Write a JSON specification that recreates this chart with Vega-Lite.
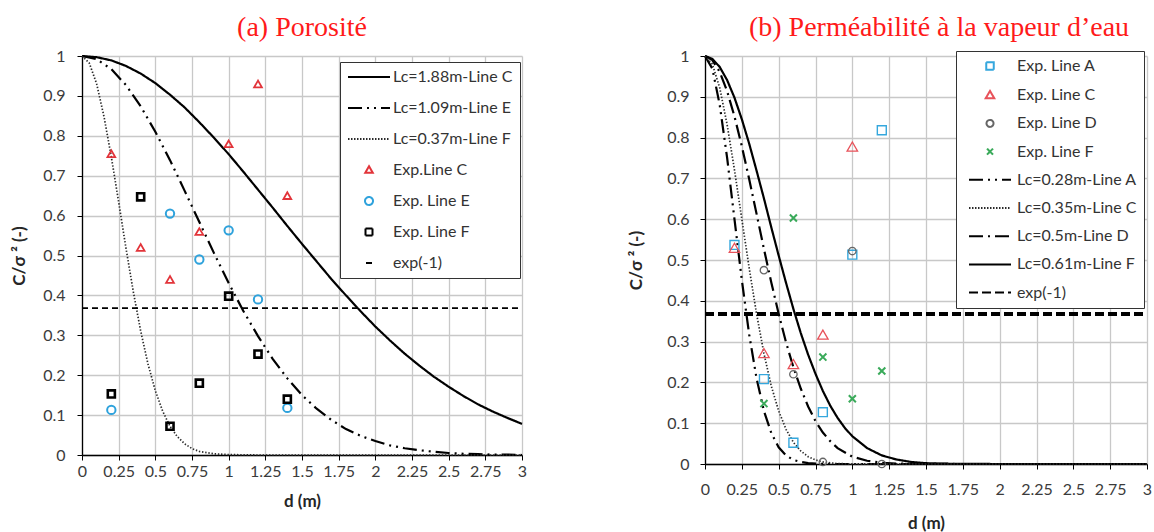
{
 "$schema": "https://vega.github.io/schema/vega-lite/v6.json",
 "padding": {"left": 10, "top": 14, "right": 2, "bottom": 2},
 "background": "white",
 "spacing": 100,
 "datasets": {
  "leftCurves": [
   {"series":"Lc=1.88m-Line C","d":0,"v":1},{"series":"Lc=1.88m-Line C","d":0.1,"v":0.997},{"series":"Lc=1.88m-Line C","d":0.2,"v":0.989},{"series":"Lc=1.88m-Line C","d":0.3,"v":0.975},{"series":"Lc=1.88m-Line C","d":0.4,"v":0.956},{"series":"Lc=1.88m-Line C","d":0.5,"v":0.932},{"series":"Lc=1.88m-Line C","d":0.6,"v":0.903},{"series":"Lc=1.88m-Line C","d":0.7,"v":0.871},{"series":"Lc=1.88m-Line C","d":0.8,"v":0.834},{"series":"Lc=1.88m-Line C","d":0.9,"v":0.795},{"series":"Lc=1.88m-Line C","d":1.0,"v":0.754},{"series":"Lc=1.88m-Line C","d":1.1,"v":0.710},{"series":"Lc=1.88m-Line C","d":1.2,"v":0.665},{"series":"Lc=1.88m-Line C","d":1.3,"v":0.620},{"series":"Lc=1.88m-Line C","d":1.4,"v":0.574},{"series":"Lc=1.88m-Line C","d":1.5,"v":0.529},{"series":"Lc=1.88m-Line C","d":1.6,"v":0.485},{"series":"Lc=1.88m-Line C","d":1.7,"v":0.441},{"series":"Lc=1.88m-Line C","d":1.8,"v":0.400},{"series":"Lc=1.88m-Line C","d":1.9,"v":0.360},{"series":"Lc=1.88m-Line C","d":2.0,"v":0.322},{"series":"Lc=1.88m-Line C","d":2.1,"v":0.287},{"series":"Lc=1.88m-Line C","d":2.2,"v":0.254},{"series":"Lc=1.88m-Line C","d":2.3,"v":0.224},{"series":"Lc=1.88m-Line C","d":2.4,"v":0.196},{"series":"Lc=1.88m-Line C","d":2.5,"v":0.171},{"series":"Lc=1.88m-Line C","d":2.6,"v":0.148},{"series":"Lc=1.88m-Line C","d":2.7,"v":0.127},{"series":"Lc=1.88m-Line C","d":2.8,"v":0.109},{"series":"Lc=1.88m-Line C","d":2.9,"v":0.093},{"series":"Lc=1.88m-Line C","d":3.0,"v":0.078},
   {"series":"Lc=1.09m-Line E","d":0,"v":1},{"series":"Lc=1.09m-Line E","d":0.1,"v":0.992},{"series":"Lc=1.09m-Line E","d":0.2,"v":0.967},{"series":"Lc=1.09m-Line E","d":0.3,"v":0.927},{"series":"Lc=1.09m-Line E","d":0.4,"v":0.874},{"series":"Lc=1.09m-Line E","d":0.5,"v":0.810},{"series":"Lc=1.09m-Line E","d":0.6,"v":0.739},{"series":"Lc=1.09m-Line E","d":0.7,"v":0.662},{"series":"Lc=1.09m-Line E","d":0.8,"v":0.584},{"series":"Lc=1.09m-Line E","d":0.9,"v":0.506},{"series":"Lc=1.09m-Line E","d":1.0,"v":0.431},{"series":"Lc=1.09m-Line E","d":1.1,"v":0.361},{"series":"Lc=1.09m-Line E","d":1.2,"v":0.298},{"series":"Lc=1.09m-Line E","d":1.3,"v":0.241},{"series":"Lc=1.09m-Line E","d":1.4,"v":0.192},{"series":"Lc=1.09m-Line E","d":1.5,"v":0.150},{"series":"Lc=1.09m-Line E","d":1.6,"v":0.116},{"series":"Lc=1.09m-Line E","d":1.7,"v":0.088},{"series":"Lc=1.09m-Line E","d":1.8,"v":0.065},{"series":"Lc=1.09m-Line E","d":1.9,"v":0.048},{"series":"Lc=1.09m-Line E","d":2.0,"v":0.035},{"series":"Lc=1.09m-Line E","d":2.1,"v":0.024},{"series":"Lc=1.09m-Line E","d":2.2,"v":0.017},{"series":"Lc=1.09m-Line E","d":2.3,"v":0.012},{"series":"Lc=1.09m-Line E","d":2.4,"v":0.008},{"series":"Lc=1.09m-Line E","d":2.5,"v":0.005},{"series":"Lc=1.09m-Line E","d":2.6,"v":0.003},{"series":"Lc=1.09m-Line E","d":2.7,"v":0.002},{"series":"Lc=1.09m-Line E","d":2.8,"v":0.001},{"series":"Lc=1.09m-Line E","d":2.9,"v":0.001},{"series":"Lc=1.09m-Line E","d":3.0,"v":0},
   {"series":"Lc=0.37m-Line F","d":0,"v":1},{"series":"Lc=0.37m-Line F","d":0.05,"v":0.982},{"series":"Lc=0.37m-Line F","d":0.1,"v":0.930},{"series":"Lc=0.37m-Line F","d":0.15,"v":0.848},{"series":"Lc=0.37m-Line F","d":0.2,"v":0.747},{"series":"Lc=0.37m-Line F","d":0.25,"v":0.634},{"series":"Lc=0.37m-Line F","d":0.3,"v":0.518},{"series":"Lc=0.37m-Line F","d":0.35,"v":0.409},{"series":"Lc=0.37m-Line F","d":0.4,"v":0.311},{"series":"Lc=0.37m-Line F","d":0.45,"v":0.228},{"series":"Lc=0.37m-Line F","d":0.5,"v":0.161},{"series":"Lc=0.37m-Line F","d":0.55,"v":0.110},{"series":"Lc=0.37m-Line F","d":0.6,"v":0.072},{"series":"Lc=0.37m-Line F","d":0.65,"v":0.046},{"series":"Lc=0.37m-Line F","d":0.7,"v":0.028},{"series":"Lc=0.37m-Line F","d":0.75,"v":0.016},{"series":"Lc=0.37m-Line F","d":0.8,"v":0.009},{"series":"Lc=0.37m-Line F","d":0.9,"v":0.003},{"series":"Lc=0.37m-Line F","d":1.0,"v":0.001},{"series":"Lc=0.37m-Line F","d":1.2,"v":0},{"series":"Lc=0.37m-Line F","d":1.5,"v":0},{"series":"Lc=0.37m-Line F","d":2,"v":0},{"series":"Lc=0.37m-Line F","d":2.5,"v":0},{"series":"Lc=0.37m-Line F","d":3,"v":0},
   {"series":"exp(-1)","d":0,"v":0.3679},{"series":"exp(-1)","d":3,"v":0.3679}
  ],
  "leftPoints": [
   {"series":"Exp.Line C","d":0.2,"v":0.755},{"series":"Exp.Line C","d":0.4,"v":0.52},{"series":"Exp.Line C","d":0.6,"v":0.44},{"series":"Exp.Line C","d":0.8,"v":0.56},{"series":"Exp.Line C","d":1.0,"v":0.78},{"series":"Exp.Line C","d":1.2,"v":0.93},{"series":"Exp.Line C","d":1.4,"v":0.65},
   {"series":"Exp. Line E","d":0.2,"v":0.113},{"series":"Exp. Line E","d":0.6,"v":0.605},{"series":"Exp. Line E","d":0.8,"v":0.49},{"series":"Exp. Line E","d":1.0,"v":0.563},{"series":"Exp. Line E","d":1.2,"v":0.39},{"series":"Exp. Line E","d":1.4,"v":0.118},
   {"series":"Exp. Line F","d":0.2,"v":0.153},{"series":"Exp. Line F","d":0.4,"v":0.647},{"series":"Exp. Line F","d":0.6,"v":0.072},{"series":"Exp. Line F","d":0.8,"v":0.18},{"series":"Exp. Line F","d":1.0,"v":0.398},{"series":"Exp. Line F","d":1.2,"v":0.253},{"series":"Exp. Line F","d":1.4,"v":0.14}
  ],
  "rightCurves": [
   {"series":"Lc=0.28m-Line A","d":0,"v":1},{"series":"Lc=0.28m-Line A","d":0.05,"v":0.969},{"series":"Lc=0.28m-Line A","d":0.1,"v":0.880},{"series":"Lc=0.28m-Line A","d":0.15,"v":0.751},{"series":"Lc=0.28m-Line A","d":0.2,"v":0.600},{"series":"Lc=0.28m-Line A","d":0.25,"v":0.451},{"series":"Lc=0.28m-Line A","d":0.3,"v":0.317},{"series":"Lc=0.28m-Line A","d":0.35,"v":0.210},{"series":"Lc=0.28m-Line A","d":0.4,"v":0.130},{"series":"Lc=0.28m-Line A","d":0.45,"v":0.076},{"series":"Lc=0.28m-Line A","d":0.5,"v":0.041},{"series":"Lc=0.28m-Line A","d":0.55,"v":0.021},{"series":"Lc=0.28m-Line A","d":0.6,"v":0.010},{"series":"Lc=0.28m-Line A","d":0.65,"v":0.005},{"series":"Lc=0.28m-Line A","d":0.7,"v":0.002},{"series":"Lc=0.28m-Line A","d":0.8,"v":0.0003},{"series":"Lc=0.28m-Line A","d":0.9,"v":0},{"series":"Lc=0.28m-Line A","d":1.0,"v":0},{"series":"Lc=0.28m-Line A","d":1.5,"v":0},{"series":"Lc=0.28m-Line A","d":2,"v":0},{"series":"Lc=0.28m-Line A","d":3,"v":0},
   {"series":"Lc=0.35m-Line C","d":0,"v":1},{"series":"Lc=0.35m-Line C","d":0.05,"v":0.980},{"series":"Lc=0.35m-Line C","d":0.1,"v":0.922},{"series":"Lc=0.35m-Line C","d":0.15,"v":0.832},{"series":"Lc=0.35m-Line C","d":0.2,"v":0.721},{"series":"Lc=0.35m-Line C","d":0.25,"v":0.600},{"series":"Lc=0.35m-Line C","d":0.3,"v":0.480},{"series":"Lc=0.35m-Line C","d":0.35,"v":0.368},{"series":"Lc=0.35m-Line C","d":0.4,"v":0.271},{"series":"Lc=0.35m-Line C","d":0.45,"v":0.191},{"series":"Lc=0.35m-Line C","d":0.5,"v":0.130},{"series":"Lc=0.35m-Line C","d":0.55,"v":0.085},{"series":"Lc=0.35m-Line C","d":0.6,"v":0.053},{"series":"Lc=0.35m-Line C","d":0.65,"v":0.032},{"series":"Lc=0.35m-Line C","d":0.7,"v":0.018},{"series":"Lc=0.35m-Line C","d":0.75,"v":0.010},{"series":"Lc=0.35m-Line C","d":0.8,"v":0.005},{"series":"Lc=0.35m-Line C","d":0.9,"v":0.001},{"series":"Lc=0.35m-Line C","d":1.0,"v":0.0003},{"series":"Lc=0.35m-Line C","d":1.5,"v":0},{"series":"Lc=0.35m-Line C","d":2,"v":0},{"series":"Lc=0.35m-Line C","d":3,"v":0},
   {"series":"Lc=0.5m-Line D","d":0,"v":1},{"series":"Lc=0.5m-Line D","d":0.05,"v":0.990},{"series":"Lc=0.5m-Line D","d":0.1,"v":0.961},{"series":"Lc=0.5m-Line D","d":0.15,"v":0.914},{"series":"Lc=0.5m-Line D","d":0.2,"v":0.852},{"series":"Lc=0.5m-Line D","d":0.25,"v":0.779},{"series":"Lc=0.5m-Line D","d":0.3,"v":0.698},{"series":"Lc=0.5m-Line D","d":0.35,"v":0.613},{"series":"Lc=0.5m-Line D","d":0.4,"v":0.527},{"series":"Lc=0.5m-Line D","d":0.45,"v":0.445},{"series":"Lc=0.5m-Line D","d":0.5,"v":0.368},{"series":"Lc=0.5m-Line D","d":0.55,"v":0.298},{"series":"Lc=0.5m-Line D","d":0.6,"v":0.237},{"series":"Lc=0.5m-Line D","d":0.65,"v":0.185},{"series":"Lc=0.5m-Line D","d":0.7,"v":0.141},{"series":"Lc=0.5m-Line D","d":0.75,"v":0.105},{"series":"Lc=0.5m-Line D","d":0.8,"v":0.077},{"series":"Lc=0.5m-Line D","d":0.85,"v":0.056},{"series":"Lc=0.5m-Line D","d":0.9,"v":0.039},{"series":"Lc=0.5m-Line D","d":1.0,"v":0.018},{"series":"Lc=0.5m-Line D","d":1.1,"v":0.008},{"series":"Lc=0.5m-Line D","d":1.2,"v":0.003},{"series":"Lc=0.5m-Line D","d":1.3,"v":0.001},{"series":"Lc=0.5m-Line D","d":1.4,"v":0.0004},{"series":"Lc=0.5m-Line D","d":1.5,"v":0.0001},{"series":"Lc=0.5m-Line D","d":2,"v":0},{"series":"Lc=0.5m-Line D","d":3,"v":0},
   {"series":"Lc=0.61m-Line F","d":0,"v":1},{"series":"Lc=0.61m-Line F","d":0.05,"v":0.993},{"series":"Lc=0.61m-Line F","d":0.1,"v":0.973},{"series":"Lc=0.61m-Line F","d":0.15,"v":0.941},{"series":"Lc=0.61m-Line F","d":0.2,"v":0.898},{"series":"Lc=0.61m-Line F","d":0.25,"v":0.845},{"series":"Lc=0.61m-Line F","d":0.3,"v":0.785},{"series":"Lc=0.61m-Line F","d":0.35,"v":0.719},{"series":"Lc=0.61m-Line F","d":0.4,"v":0.651},{"series":"Lc=0.61m-Line F","d":0.45,"v":0.580},{"series":"Lc=0.61m-Line F","d":0.5,"v":0.511},{"series":"Lc=0.61m-Line F","d":0.55,"v":0.444},{"series":"Lc=0.61m-Line F","d":0.6,"v":0.380},{"series":"Lc=0.61m-Line F","d":0.65,"v":0.321},{"series":"Lc=0.61m-Line F","d":0.7,"v":0.268},{"series":"Lc=0.61m-Line F","d":0.75,"v":0.221},{"series":"Lc=0.61m-Line F","d":0.8,"v":0.179},{"series":"Lc=0.61m-Line F","d":0.85,"v":0.143},{"series":"Lc=0.61m-Line F","d":0.9,"v":0.113},{"series":"Lc=0.61m-Line F","d":0.95,"v":0.088},{"series":"Lc=0.61m-Line F","d":1.0,"v":0.068},{"series":"Lc=0.61m-Line F","d":1.1,"v":0.039},{"series":"Lc=0.61m-Line F","d":1.2,"v":0.021},{"series":"Lc=0.61m-Line F","d":1.3,"v":0.011},{"series":"Lc=0.61m-Line F","d":1.4,"v":0.005},{"series":"Lc=0.61m-Line F","d":1.5,"v":0.002},{"series":"Lc=0.61m-Line F","d":1.6,"v":0.001},{"series":"Lc=0.61m-Line F","d":1.7,"v":0.0004},{"series":"Lc=0.61m-Line F","d":1.8,"v":0.0002},{"series":"Lc=0.61m-Line F","d":2,"v":0},{"series":"Lc=0.61m-Line F","d":2.5,"v":0},{"series":"Lc=0.61m-Line F","d":3,"v":0},
   {"series":"exp(-1)","d":0,"v":0.3679},{"series":"exp(-1)","d":3,"v":0.3679}
  ],
  "rightPoints": [
   {"series":"Exp. Line A","d":0.2,"v":0.537},{"series":"Exp. Line A","d":0.4,"v":0.208},{"series":"Exp. Line A","d":0.6,"v":0.052},{"series":"Exp. Line A","d":0.8,"v":0.127},{"series":"Exp. Line A","d":1.0,"v":0.513},{"series":"Exp. Line A","d":1.2,"v":0.818},
   {"series":"Exp. Line C","d":0.2,"v":0.53},{"series":"Exp. Line C","d":0.4,"v":0.272},{"series":"Exp. Line C","d":0.6,"v":0.245},{"series":"Exp. Line C","d":0.8,"v":0.317},{"series":"Exp. Line C","d":1.0,"v":0.778},
   {"series":"Exp. Line D","d":0.4,"v":0.475},{"series":"Exp. Line D","d":0.6,"v":0.22},{"series":"Exp. Line D","d":0.8,"v":0.005},{"series":"Exp. Line D","d":1.0,"v":0.522},{"series":"Exp. Line D","d":1.2,"v":0.0},
   {"series":"Exp. Line F","d":0.4,"v":0.148},{"series":"Exp. Line F","d":0.6,"v":0.603},{"series":"Exp. Line F","d":0.8,"v":0.262},{"series":"Exp. Line F","d":1.0,"v":0.16},{"series":"Exp. Line F","d":1.2,"v":0.228}
  ]
 },
 "hconcat": [
  {
   "width": 440, "height": 399,
   "title": {"text": "(a) Porosité"},
   "encoding": {
    "x": {"field": "d", "type": "quantitative", "scale": {"domain": [0, 3], "nice": false},
          "axis": {"values": [0,0.25,0.5,0.75,1,1.25,1.5,1.75,2,2.25,2.5,2.75,3], "labelExpr": "'' + datum.value", "title": "d (m)", "labelPadding": 3, "titlePadding": 14}},
    "y": {"field": "v", "type": "quantitative", "scale": {"domain": [0, 1], "nice": false},
          "axis": {"values": [0,0.1,0.2,0.3,0.4,0.5,0.6,0.7,0.8,0.9,1], "labelExpr": "'' + datum.value", "title": "C/σ ² (-)", "labelPadding": 12, "titlePadding": 14}}
   },
   "layer": [
    {
     "data": {"name": "leftCurves"},
     "transform": [{"filter": "datum.series !== 'Lc=0.37m-Line F' && datum.series !== 'exp(-1)'"}],
     "mark": {"type": "line", "strokeWidth": 2.2},
     "encoding": {
      "color": {"field": "series", "type": "nominal",
                "scale": {"domain": ["Lc=1.88m-Line C","Lc=1.09m-Line E","Lc=0.37m-Line F","Exp.Line C","Exp. Line E","Exp. Line F","exp(-1)"],
                          "range": ["#000000","#000000","#2a2a2a","#e2343a","#2ea2dc","#000000","#000000"]},
                "legend": {"orient": "none", "legendX": 258, "legendY": 6, "title": null, "padding": 7,
                           "fillColor": "#ffffff", "strokeColor": "#333333", "symbolSize": 100, "symbolStrokeWidth": 2, "symbolOffset": 14,
                           "labelOffset": 16, "rowPadding": 15, "labelFont": "Lato", "labelFontSize": 16, "labelColor": "#333333", "labelLimit": 0,
                           "encode": {"symbols": {"update": {
                             "shape": {"signal": "datum.value === 'Exp.Line C' ? 'M0,-0.75L0.75,0.55L-0.75,0.55Z' : datum.value === 'Exp. Line E' ? 'M0.8,0A0.8,0.8,0,1,1,-0.8,0A0.8,0.8,0,1,1,0.8,0Z' : datum.value === 'Exp. Line F' ? 'M-0.7,-0.7H0.7V0.7H-0.7Z' : datum.value === 'exp(-1)' ? 'M-0.6,0H0.6' : 'M-4.2,0H4.2'"},
                             "stroke": {"signal": "datum.value === 'Exp.Line C' ? '#e2343a' : datum.value === 'Exp. Line E' ? '#2ea2dc' : datum.value === 'Lc=0.37m-Line F' ? '#2a2a2a' : '#000000'"},
                             "strokeDash": {"signal": "datum.value === 'Lc=1.09m-Line E' ? [14,5,2,5,2,5] : datum.value === 'Lc=0.37m-Line F' ? [1.5,1.5] : [1,0]"},
                             "fill": {"value": "transparent"},
                             "opacity": {"value": 1}
                           }}}}},
      "strokeDash": {"field": "series", "type": "nominal",
                     "scale": {"domain": ["Lc=1.88m-Line C","Lc=1.09m-Line E","Lc=0.37m-Line F","exp(-1)"],
                               "range": [[1,0],[14,5,2,5,2,5],[1.4,1.8],[6,4]]}, "legend": null}
     }
    },
    {
     "data": {"name": "leftCurves"},
     "transform": [{"filter": "datum.series === 'Lc=0.37m-Line F'"}],
     "mark": {"type": "line", "strokeWidth": 1.7},
     "encoding": {
      "color": {"field": "series", "type": "nominal"},
      "strokeDash": {"field": "series", "type": "nominal", "legend": null}
     }
    },
    {
     "data": {"name": "leftCurves"},
     "transform": [{"filter": "datum.series === 'exp(-1)'"}],
     "mark": {"type": "line", "strokeWidth": 1.8},
     "encoding": {
      "color": {"field": "series", "type": "nominal"},
      "strokeDash": {"field": "series", "type": "nominal", "legend": null}
     }
    },
    {
     "data": {"name": "leftPoints"},
     "transform": [{"filter": "datum.series === 'Exp.Line C'"}],
     "mark": {"type": "point", "shape": "triangle-up", "filled": false, "size": 60, "strokeWidth": 1.8, "opacity": 1},
     "encoding": {"color": {"field": "series", "type": "nominal"}}
    },
    {
     "data": {"name": "leftPoints"},
     "transform": [{"filter": "datum.series === 'Exp. Line E'"}],
     "mark": {"type": "point", "shape": "circle", "filled": false, "size": 70, "strokeWidth": 2, "opacity": 1},
     "encoding": {"color": {"field": "series", "type": "nominal"}}
    },
    {
     "data": {"name": "leftPoints"},
     "transform": [{"filter": "datum.series === 'Exp. Line F'"}],
     "mark": {"type": "point", "shape": "square", "filled": false, "size": 50, "strokeWidth": 2.6, "opacity": 1},
     "encoding": {"color": {"field": "series", "type": "nominal"}}
    }
   ]
  },
  {
   "width": 442, "height": 408,
   "title": {"text": "(b) Perméabilité  à la vapeur d’eau", "dx": 13},
   "encoding": {
    "x": {"field": "d", "type": "quantitative", "scale": {"domain": [0, 3], "nice": false},
          "axis": {"values": [0,0.25,0.5,0.75,1,1.25,1.5,1.75,2,2.25,2.5,2.75,3], "labelExpr": "'' + datum.value", "title": "d (m)", "labelPadding": 12, "titlePadding": 18}},
    "y": {"field": "v", "type": "quantitative", "scale": {"domain": [0, 1], "nice": false},
          "axis": {"values": [0,0.1,0.2,0.3,0.4,0.5,0.6,0.7,0.8,0.9,1], "labelExpr": "'' + datum.value", "title": "C/σ ² (-)", "labelPadding": 11, "titlePadding": 21}}
   },
   "layer": [
    {
     "data": {"name": "rightCurves"},
     "transform": [{"filter": "datum.series !== 'Lc=0.35m-Line C' && datum.series !== 'exp(-1)'"}],
     "mark": {"type": "line", "strokeWidth": 2.2},
     "encoding": {
      "color": {"field": "series", "type": "nominal",
                "scale": {"domain": ["Exp. Line A","Exp. Line C","Exp. Line D","Exp. Line F","Lc=0.28m-Line A","Lc=0.35m-Line C","Lc=0.5m-Line D","Lc=0.61m-Line F","exp(-1)"],
                          "range": ["#35a7dd","#e8525a","#666666","#3aaa5a","#000000","#2a2a2a","#000000","#000000","#000000"]},
                "legend": {"orient": "none", "legendX": 251, "legendY": -5, "title": null, "padding": 7,
                           "fillColor": "#ffffff", "strokeColor": "#333333", "symbolSize": 100, "symbolStrokeWidth": 2, "symbolOffset": 19,
                           "labelOffset": 19, "rowPadding": 12.2, "labelFont": "Lato", "labelFontSize": 16, "labelColor": "#333333", "labelLimit": 0,
                           "encode": {"symbols": {"update": {
                             "shape": {"signal": "datum.value === 'Exp. Line A' ? 'M-0.75,-0.75H0.75V0.75H-0.75Z' : datum.value === 'Exp. Line C' ? 'M0,-0.85L0.85,0.6L-0.85,0.6Z' : datum.value === 'Exp. Line D' ? 'M0.7,0A0.7,0.7,0,1,1,-0.7,0A0.7,0.7,0,1,1,0.7,0Z' : datum.value === 'Exp. Line F' ? 'M-0.6,-0.6L0.6,0.6M-0.6,0.6L0.6,-0.6' : 'M-4.2,0H4.2'"},
                             "stroke": {"signal": "datum.value === 'Exp. Line A' ? '#35a7dd' : datum.value === 'Exp. Line C' ? '#e8525a' : datum.value === 'Exp. Line D' ? '#666666' : datum.value === 'Exp. Line F' ? '#3aaa5a' : '#000000'"},
                             "strokeDash": {"signal": "datum.value === 'Lc=0.28m-Line A' ? [14,5,2,5,2,5] : datum.value === 'Lc=0.35m-Line C' ? [1.5,1.5] : datum.value === 'Lc=0.5m-Line D' ? [14,5,2,5] : datum.value === 'exp(-1)' ? [9,4] : [1,0]"},
                             "fill": {"value": "transparent"},
                             "opacity": {"value": 1}
                           }}}}},
      "strokeDash": {"field": "series", "type": "nominal",
                     "scale": {"domain": ["Lc=0.28m-Line A","Lc=0.35m-Line C","Lc=0.5m-Line D","Lc=0.61m-Line F","exp(-1)"],
                               "range": [[14,5,2,5,2,5],[1.4,1.8],[14,5,2,5],[1,0],[9,4]]}, "legend": null}
     }
    },
    {
     "data": {"name": "rightCurves"},
     "transform": [{"filter": "datum.series === 'Lc=0.35m-Line C'"}],
     "mark": {"type": "line", "strokeWidth": 1.7},
     "encoding": {
      "color": {"field": "series", "type": "nominal"},
      "strokeDash": {"field": "series", "type": "nominal", "legend": null}
     }
    },
    {
     "data": {"name": "rightCurves"},
     "transform": [{"filter": "datum.series === 'exp(-1)'"}],
     "mark": {"type": "line", "strokeWidth": 4},
     "encoding": {
      "color": {"field": "series", "type": "nominal"},
      "strokeDash": {"field": "series", "type": "nominal", "legend": null}
     }
    },
    {
     "data": {"name": "rightPoints"},
     "transform": [{"filter": "datum.series === 'Exp. Line A'"}],
     "mark": {"type": "point", "shape": "square", "filled": false, "size": 80, "strokeWidth": 1.4, "opacity": 1},
     "encoding": {"color": {"field": "series", "type": "nominal"}}
    },
    {
     "data": {"name": "rightPoints"},
     "transform": [{"filter": "datum.series === 'Exp. Line C'"}],
     "mark": {"type": "point", "shape": "triangle-up", "filled": false, "size": 110, "strokeWidth": 1.3, "opacity": 1},
     "encoding": {"color": {"field": "series", "type": "nominal"}}
    },
    {
     "data": {"name": "rightPoints"},
     "transform": [{"filter": "datum.series === 'Exp. Line D'"}],
     "mark": {"type": "point", "shape": "circle", "filled": false, "size": 55, "strokeWidth": 1.3, "opacity": 1},
     "encoding": {"color": {"field": "series", "type": "nominal"}}
    },
    {
     "data": {"name": "rightPoints"},
     "transform": [{"filter": "datum.series === 'Exp. Line F'"}],
     "mark": {"type": "point", "shape": "M-1,-1L1,1M-1,1L1,-1", "filled": false, "size": 50, "strokeWidth": 2, "opacity": 1},
     "encoding": {"color": {"field": "series", "type": "nominal"}}
    }
   ]
  }
 ],
 "resolve": {"scale": {"color": "independent", "strokeDash": "independent"}},
 "config": {
  "font": "Lato",
  "view": {"stroke": null},
  "title": {"font": "Liberation Serif", "fontSize": 28, "fontWeight": "normal", "color": "#ff1a1a", "offset": 6, "anchor": "middle"},
  "axis": {"labelFlush": false, "labelOverlap": false, "tickSize": 5, "tickColor": "#000000", "domainColor": "#000000", "domainWidth": 1.3,
           "gridColor": "#c8c8c8", "gridWidth": 1.3, "labelFont": "Lato", "labelFontSize": 16, "labelColor": "#3b3b3b",
           "titleFont": "Lato", "titleFontSize": 17, "titleFontWeight": "bold", "titleColor": "#262626"}
 }
}
